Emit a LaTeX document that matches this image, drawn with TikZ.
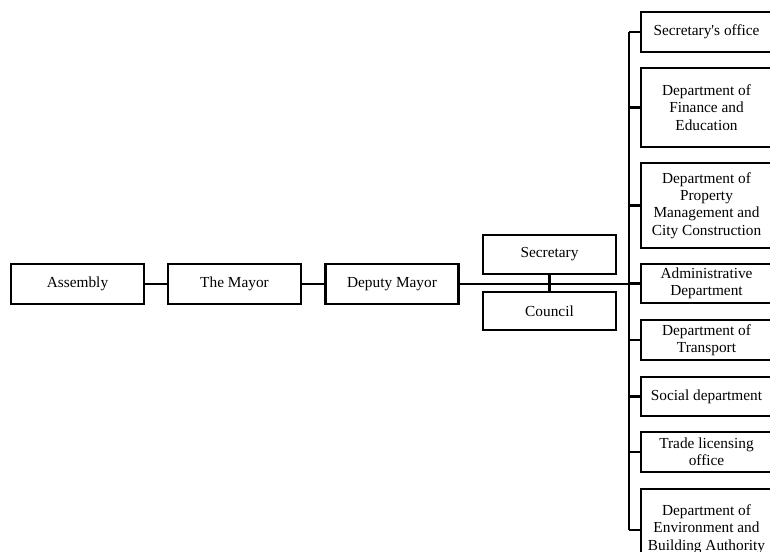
\documentclass[tikz,border=0pt]{standalone}
\usepackage{fontspec}
\setmainfont{Liberation Serif}
\begin{document}
\begin{tikzpicture}[x=0.75pt,y=-0.75pt,
  box/.style={draw, line width=1.8pt, align=center, inner sep=0pt,
    font=\fontsize{11.5pt}{13pt}\selectfont},
  lbox/.style={box, minimum width=99.5pt, minimum height=30pt},
  rbox/.style={box, minimum width=98pt},
  conn/.style={line width=1.8pt}]
\useasboundingbox (0,0) rectangle (770,552);
\clip (0,0) rectangle (770,552);
% left chain
\node[lbox] (asm) at (77.5,284) {Assembly};
\node[lbox] (may) at (234.5,284) {The Mayor};
\node[lbox] (dep) at (392,284) {Deputy Mayor};
\node[lbox, minimum height=29pt] (sec) at (549.5,254.5) {Secretary};
\node[lbox, minimum height=28.5pt] (cou) at (549.5,311) {Council};
% right column
\node[rbox, minimum height=30pt] (so) at (706.5,32) {Secretary\textquotesingle s office};
\node[rbox, minimum height=59pt] (fin) at (706.5,107.5) {Department of\\Finance and\\Education};
\node[rbox, minimum height=64pt] (prop) at (706.5,205.5) {Department of\\Property\\Management and\\City Construction};
\node[rbox, minimum height=29pt] (adm) at (706.5,283.5) {Administrative\\Department};
\node[rbox, minimum height=30pt] (tra) at (706.5,340) {Department of\\Transport};
\node[rbox, minimum height=29pt] (soc) at (706.5,396.5) {Social department};
\node[rbox, minimum height=30pt] (tl) at (706.5,452) {Trade licensing\\office};
\node[rbox, minimum height=60pt, anchor=north] (env) at (706.5,488) {\\[-5pt]Department of\\Environment and\\Building Authority};
% trunk
\coordinate (ttop) at (629,32);
\coordinate (tbot) at (629,530);
\draw[conn] (ttop) -- (tbot);
\draw[conn] (asm) -- (may);
\draw[conn] (may) -- (dep);
\draw[conn] (dep.east) -- (dep.east -| ttop);
\draw[conn] (sec) -- (cou);
\foreach \n in {so,fin,prop,adm,tra,soc,tl}
  \draw[conn] (\n.west) -- (\n.west -| ttop);
\draw[conn] (tbot) -- (tbot -| env.west);
\end{tikzpicture}
\end{document}
